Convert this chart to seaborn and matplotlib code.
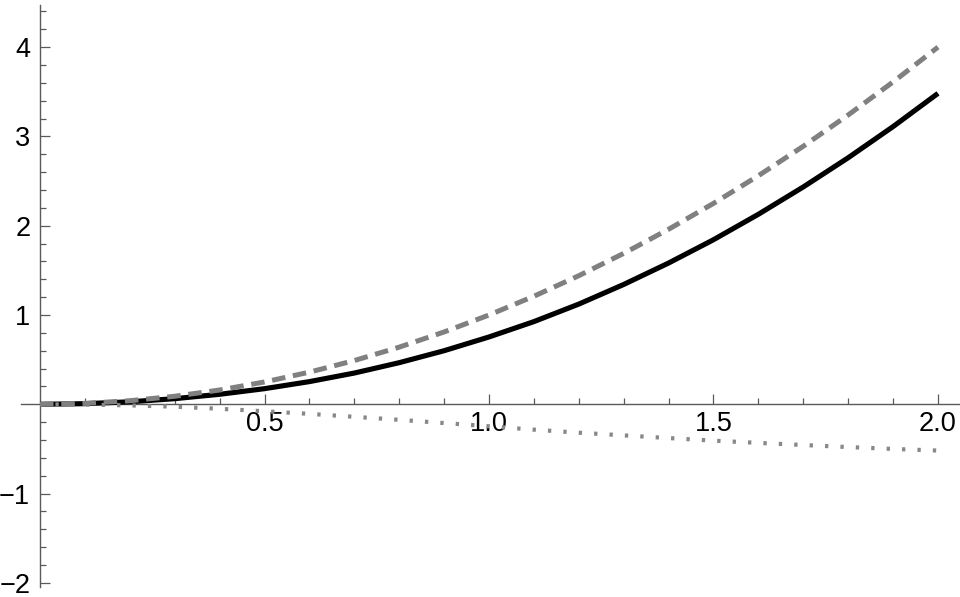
import matplotlib
matplotlib.use("Agg")
import matplotlib.pyplot as plt
import seaborn as sns
import pandas as pd

# ---- data ----
x_vals = [0.0, 0.1, 0.2, 0.3, 0.4, 0.5, 0.6, 0.7, 0.8, 0.9, 1.0,
          1.1, 1.2, 1.3, 1.4, 1.5, 1.6, 1.7, 1.8, 1.9, 2.0]
solid_vals = [0.0, 0.007, 0.028, 0.063, 0.112, 0.175, 0.254, 0.35, 0.466, 0.6, 0.754,
              0.926, 1.122, 1.342, 1.582, 1.843, 2.128, 2.434, 2.761, 3.11, 3.482]
dashed_vals = [0.0, 0.01, 0.04, 0.09, 0.16, 0.25, 0.36, 0.49, 0.64, 0.81, 1.0,
               1.21, 1.44, 1.69, 1.96, 2.25, 2.56, 2.89, 3.24, 3.61, 4.0]
dotted_vals = [0.0, -0.003, -0.012, -0.027, -0.05, -0.078, -0.107, -0.14, -0.174, -0.21, -0.246,
               -0.284, -0.318, -0.348, -0.378, -0.407, -0.432, -0.456, -0.479, -0.5, -0.518]
x_major = [0.5, 1.0, 1.5, 2.0]
x_labels = ["0.5", "1.0", "1.5", "2.0"]
y_major = [-2, -1, 1, 2, 3, 4]
y_labels = ["\u22122", "\u22121", "1", "2", "3", "4"]

sns.set_style("white")
plt.rcParams['font.family'] = ['Liberation Sans', 'DejaVu Sans']

fig = plt.figure(figsize=(9.6, 5.97), dpi=100)
ax = fig.add_axes([0, 0, 1, 1])

df = pd.DataFrame({"x": x_vals, "solid": solid_vals, "dashed": dashed_vals, "dotted": dotted_vals})

sns.lineplot(data=df, x="x", y="solid", ax=ax, color="black", linewidth=3.7, zorder=3)
ax.lines[-1].set_solid_capstyle("butt")
sns.lineplot(data=df, x="x", y="dotted", ax=ax, color="#888888", linewidth=3.0, zorder=4)
ax.lines[-1].set_linestyle((0, (0.8, 2.9)))
ax.lines[-1].set_dash_capstyle("butt")
sns.lineplot(data=df, x="x", y="dashed", ax=ax, color="#808080", linewidth=3.6, zorder=5)
ax.lines[-1].set_linestyle((0, (2.7, 1.55)))

ax.set_xlim(-40 / 449, 920 / 449)
ax.set_ylim(-192.7 / 89.3, 404.3 / 89.3)

axis_color = "#5a5a5a"
for s in ["top", "right"]:
    ax.spines[s].set_visible(False)
ax.spines["left"].set_position(("data", 0))
ax.spines["bottom"].set_position(("data", 0))
ax.spines["left"].set_bounds(-2.05, 4.47)
ax.spines["bottom"].set_bounds(-0.042, 2.049)
for s in ["left", "bottom"]:
    ax.spines[s].set_visible(True)
    ax.spines[s].set_color(axis_color)
    ax.spines[s].set_linewidth(1.0)
    ax.spines[s].set_zorder(1)

ax.set_xticks(x_major)
ax.set_xticklabels(x_labels)
ax.set_yticks(y_major)
ax.set_yticklabels(y_labels)
ax.set_xticks([v / 10 for v in range(1, 21) if v % 5 != 0], minor=True)
ax.set_yticks([v / 5 for v in range(-10, 23) if v % 5 != 0], minor=True)

ax.tick_params(axis="both", which="both", bottom=True, left=True, top=False, right=False)
ax.tick_params(axis="both", which="major", direction="in", length=7.5, width=0.9,
               color=axis_color, labelsize=19.5, labelcolor="black")
ax.tick_params(axis="both", which="minor", direction="in", length=4.5, width=0.9,
               color=axis_color)
ax.tick_params(axis="x", which="major", pad=5)
ax.tick_params(axis="y", which="major", pad=7)
ax.set_xlabel("")
ax.set_ylabel("")
ax.grid(False)
ax.set_facecolor("white")

fig.savefig("out.png", dpi=100, facecolor="white")
